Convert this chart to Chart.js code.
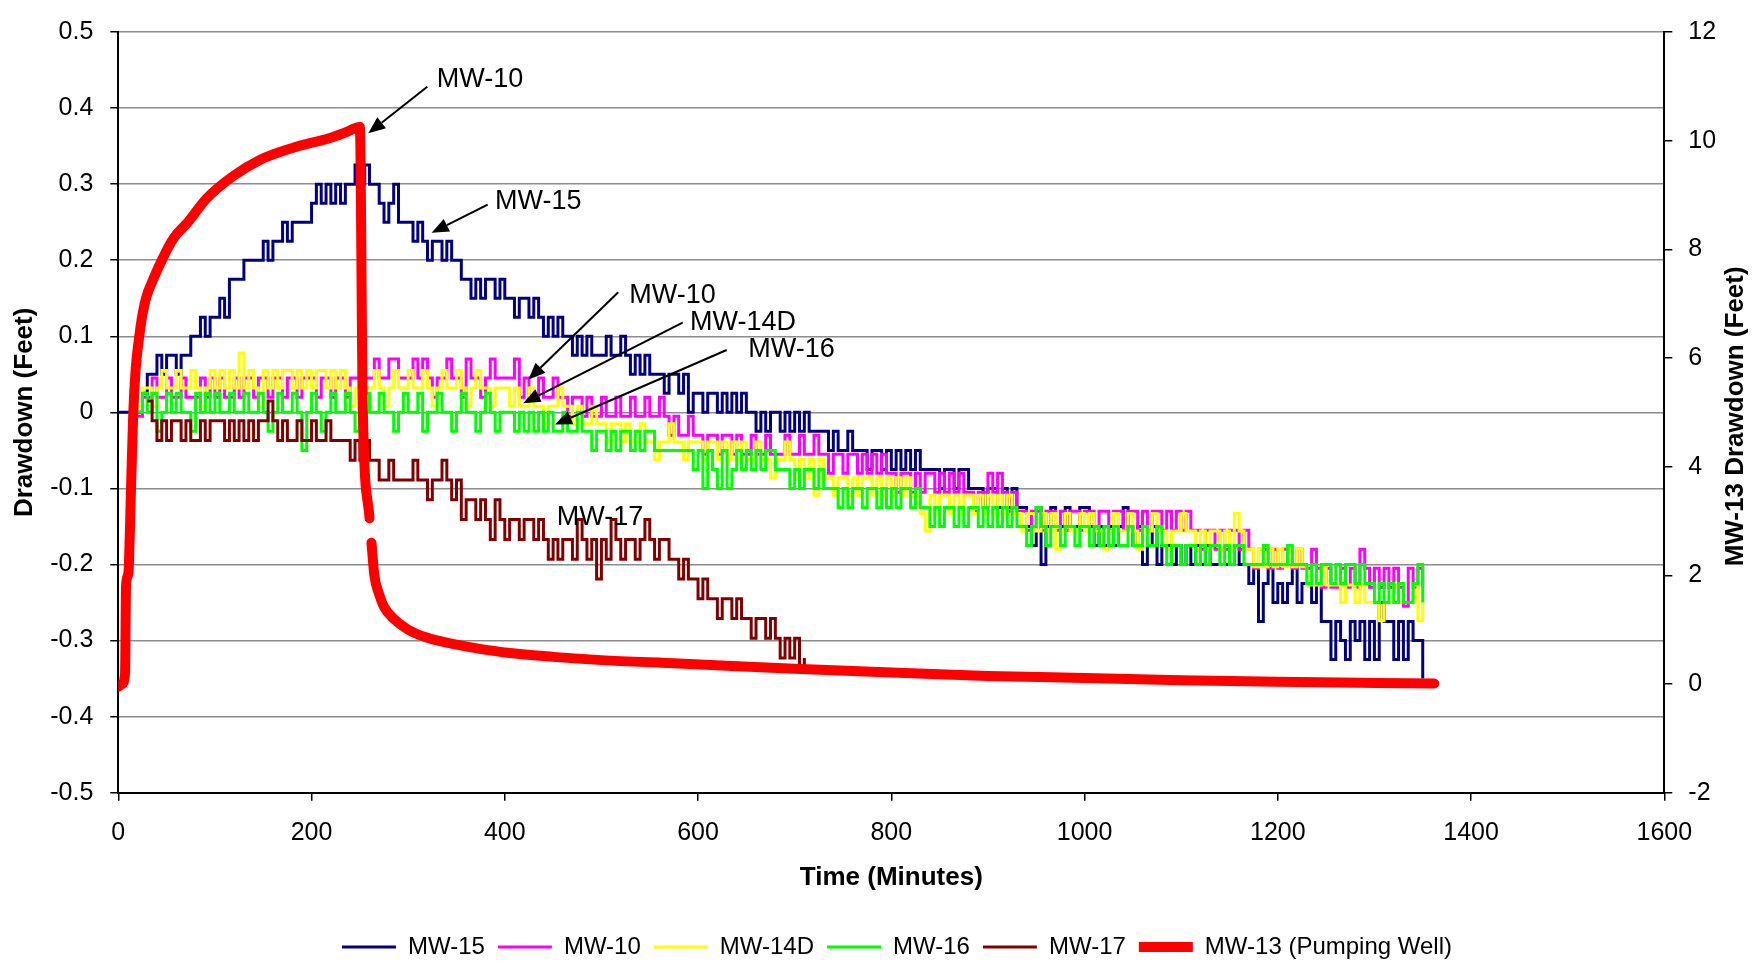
<!DOCTYPE html>
<html>
<head>
<meta charset="utf-8">
<title>Pumping Test Drawdown</title>
<script src="https://cdn.jsdelivr.net/npm/chart.js"></script>
<style>
  html, body { margin: 0; padding: 0; background: #fff; }
  canvas { display: block; }
</style>
</head>
<body>
<canvas id="chart" width="1754" height="963"></canvas>
<script>
// elapsed time since pump start (minutes), observation wells logged every 5 min
const minutes = [
  0, 5, 10, 15, 20, 25, 30, 35, 40, 45, 50, 55, 60, 65, 70, 75, 80, 85, 90, 95,
  100, 105, 110, 115, 120, 125, 130, 135, 140, 145, 150, 155, 160, 165, 170, 175, 180, 185, 190, 195,
  200, 205, 210, 215, 220, 225, 230, 235, 240, 245, 250, 255, 260, 265, 270, 275, 280, 285, 290, 295,
  300, 305, 310, 315, 320, 325, 330, 335, 340, 345, 350, 355, 360, 365, 370, 375, 380, 385, 390, 395,
  400, 405, 410, 415, 420, 425, 430, 435, 440, 445, 450, 455, 460, 465, 470, 475, 480, 485, 490, 495,
  500, 505, 510, 515, 520, 525, 530, 535, 540, 545, 550, 555, 560, 565, 570, 575, 580, 585, 590, 595,
  600, 605, 610, 615, 620, 625, 630, 635, 640, 645, 650, 655, 660, 665, 670, 675, 680, 685, 690, 695,
  700, 705, 710, 715, 720, 725, 730, 735, 740, 745, 750, 755, 760, 765, 770, 775, 780, 785, 790, 795,
  800, 805, 810, 815, 820, 825, 830, 835, 840, 845, 850, 855, 860, 865, 870, 875, 880, 885, 890, 895,
  900, 905, 910, 915, 920, 925, 930, 935, 940, 945, 950, 955, 960, 965, 970, 975, 980, 985, 990, 995,
  1000, 1005, 1010, 1015, 1020, 1025, 1030, 1035, 1040, 1045, 1050, 1055, 1060, 1065, 1070, 1075, 1080, 1085, 1090, 1095,
  1100, 1105, 1110, 1115, 1120, 1125, 1130, 1135, 1140, 1145, 1150, 1155, 1160, 1165, 1170, 1175, 1180, 1185, 1190, 1195,
  1200, 1205, 1210, 1215, 1220, 1225, 1230, 1235, 1240, 1245, 1250, 1255, 1260, 1265, 1270, 1275, 1280, 1285, 1290, 1295,
  1300, 1305, 1310, 1315, 1320, 1325, 1330, 1335, 1340, 1345, 1350
];

// drawdown in feet (left axis)
const mw15 = [
  0, 0, 0, 0, 0, 0.025, 0.05, 0.05, 0.075, 0.05, 0.075, 0.075, 0.05, 0.075, 0.075, 0.1, 0.1, 0.125, 0.1, 0.125,
  0.125, 0.15, 0.125, 0.175, 0.175, 0.175, 0.2, 0.2, 0.2, 0.2, 0.225, 0.2, 0.225, 0.225, 0.25, 0.225, 0.25, 0.25, 0.25, 0.25,
  0.275, 0.3, 0.275, 0.3, 0.275, 0.3, 0.275, 0.3, 0.3, 0.325, 0.3, 0.325, 0.3, 0.3, 0.275, 0.25, 0.275, 0.3, 0.25, 0.25,
  0.25, 0.225, 0.25, 0.225, 0.2, 0.225, 0.225, 0.2, 0.225, 0.2, 0.2, 0.175, 0.175, 0.15, 0.175, 0.15, 0.175, 0.175, 0.15, 0.175,
  0.15, 0.15, 0.125, 0.15, 0.15, 0.125, 0.15, 0.125, 0.1, 0.125, 0.1, 0.125, 0.1, 0.1, 0.075, 0.1, 0.075, 0.1, 0.075, 0.075,
  0.075, 0.1, 0.075, 0.075, 0.1, 0.075, 0.05, 0.075, 0.05, 0.075, 0.05, 0.05, 0.05, 0.025, 0.05, 0.05, 0.025, 0.05, 0, 0.025,
  0.025, 0, 0.025, 0.025, 0, 0.025, 0, 0.025, 0, 0.025, 0, 0, -0.025, 0, -0.025, 0, 0, -0.025, 0, -0.025,
  0, -0.025, 0, -0.025, -0.025, -0.025, -0.025, -0.05, -0.025, -0.05, -0.05, -0.025, -0.05, -0.05, -0.05, -0.075, -0.05, -0.05, -0.075, -0.05,
  -0.075, -0.05, -0.075, -0.05, -0.075, -0.05, -0.075, -0.075, -0.075, -0.075, -0.1, -0.075, -0.075, -0.1, -0.075, -0.075, -0.1, -0.1, -0.1, -0.125,
  -0.1, -0.1, -0.125, -0.1, -0.125, -0.1, -0.125, -0.125, -0.15, -0.175, -0.125, -0.2, -0.15, -0.125, -0.15, -0.15, -0.125, -0.15, -0.15, -0.125,
  -0.125, -0.15, -0.175, -0.15, -0.175, -0.15, -0.175, -0.15, -0.125, -0.15, -0.175, -0.15, -0.2, -0.175, -0.15, -0.2, -0.175, -0.175, -0.2, -0.175,
  -0.2, -0.175, -0.2, -0.175, -0.2, -0.175, -0.2, -0.2, -0.2, -0.2, -0.2, -0.175, -0.2, -0.2, -0.225, -0.2, -0.275, -0.225, -0.2, -0.25,
  -0.225, -0.25, -0.225, -0.2, -0.25, -0.225, -0.225, -0.25, -0.225, -0.275, -0.275, -0.325, -0.275, -0.3, -0.325, -0.275, -0.3, -0.275, -0.325, -0.275,
  -0.325, -0.25, -0.275, -0.275, -0.325, -0.275, -0.325, -0.275, -0.3, -0.3, -0.35
];

const mw10 = [
  null, null, null, null, -0.005, 0.02, 0.02, 0.045, 0.02, 0.02, 0.045, 0.02, 0.02, 0.045, 0.02, 0.02, 0.02, 0.045, 0.02, 0.045,
  0.02, 0.045, 0.02, 0.02, 0.045, 0.02, 0.045, 0.045, 0.02, 0.045, 0.045, 0.02, 0.045, 0.045, 0.02, 0.045, 0.045, 0.02, 0.045, 0.045,
  0.045, 0.02, 0.045, 0.045, 0.02, 0.045, 0.045, 0.02, 0.045, 0.045, 0.02, 0.045, 0.045, 0.07, 0.045, 0.045, 0.07, 0.07, 0.045, 0.045,
  0.045, 0.07, 0.045, 0.07, 0.045, 0.02, 0.045, 0.045, 0.07, 0.045, 0.045, 0.02, 0.07, 0.045, 0.045, 0.02, 0.045, 0.07, 0.045, 0.045,
  0.045, 0.045, 0.07, 0.02, 0.045, 0.02, 0.02, 0.045, 0.02, 0.02, 0.045, 0.02, 0.02, -0.005, 0.02, 0.02, -0.005, 0.02, -0.005, -0.005,
  0.02, -0.005, -0.005, 0.02, -0.005, -0.005, 0.02, -0.005, -0.005, 0.02, -0.005, -0.005, 0.02, -0.005, -0.03, -0.005, -0.03, -0.03, -0.005, -0.03,
  -0.03, -0.055, -0.03, -0.03, -0.055, -0.03, -0.03, -0.055, -0.03, -0.055, -0.055, -0.03, -0.055, -0.055, -0.03, -0.055, -0.055, -0.055, -0.03, -0.055,
  -0.055, -0.03, -0.055, -0.055, -0.03, -0.055, -0.055, -0.08, -0.055, -0.055, -0.08, -0.055, -0.055, -0.08, -0.055, -0.08, -0.055, -0.08, -0.055, -0.08,
  -0.08, -0.105, -0.08, -0.08, -0.105, -0.08, -0.105, -0.08, -0.08, -0.105, -0.08, -0.105, -0.08, -0.105, -0.08, -0.105, -0.105, -0.13, -0.105, -0.105,
  -0.08, -0.105, -0.08, -0.105, -0.13, -0.105, -0.13, -0.13, -0.155, -0.13, -0.13, -0.155, -0.13, -0.13, -0.155, -0.13, -0.155, -0.13, -0.13, -0.155,
  -0.13, -0.13, -0.155, -0.13, -0.13, -0.155, -0.13, -0.13, -0.155, -0.13, -0.13, -0.155, -0.13, -0.155, -0.13, -0.13, -0.155, -0.13, -0.155, -0.13,
  -0.155, -0.13, -0.155, -0.155, -0.18, -0.155, -0.155, -0.18, -0.155, -0.18, -0.155, -0.155, -0.18, -0.155, -0.18, -0.205, -0.18, -0.18, -0.205, -0.18,
  -0.205, -0.18, -0.18, -0.205, -0.18, -0.205, -0.205, -0.18, -0.205, -0.23, -0.205, -0.23, -0.23, -0.205, -0.23, -0.205, -0.23, -0.18, -0.205, -0.23,
  -0.205, -0.23, -0.205, -0.23, -0.205, -0.23, -0.255, -0.205, -0.23, -0.205, -0.23
];

const mw14d = [
  null, null, null, null, 0.008, 0.032, 0.032, 0.008, 0.032, 0.055, 0.032, 0.032, 0.055, 0.032, 0.032, 0.055, 0.032, 0.008, 0.032, 0.055,
  0.032, 0.055, 0.032, 0.055, 0.032, 0.078, 0.032, 0.055, 0.032, 0.008, 0.055, 0.032, 0.055, 0.032, 0.055, 0.055, 0.032, 0.055, 0.032, 0.055,
  0.032, 0.055, 0.055, 0.032, 0.055, 0.032, 0.055, 0.032, 0.008, 0.032, 0.055, 0.032, 0.032, 0.055, 0.032, 0.008, 0.032, 0.055, 0.032, 0.032,
  0.055, 0.032, 0.032, 0.055, 0.032, 0.008, 0.032, 0.055, 0.032, 0.032, 0.055, 0.032, 0.008, 0.032, 0.055, 0.032, 0.032, 0.008, 0.032, 0.032,
  0.032, 0.008, 0.032, 0.008, 0.008, 0.032, 0.008, 0.008, -0.015, 0.008, 0.008, 0.032, 0.008, 0.008, -0.015, 0.008, -0.015, -0.015, 0.008, -0.015,
  -0.015, -0.039, -0.015, -0.015, -0.039, -0.015, -0.039, -0.039, -0.015, -0.039, -0.039, -0.062, -0.039, -0.039, -0.015, -0.039, -0.039, -0.062, -0.039, -0.039,
  -0.039, -0.062, -0.039, -0.039, -0.062, -0.039, -0.062, -0.039, -0.062, -0.039, -0.062, -0.062, -0.039, -0.062, -0.062, -0.086, -0.062, -0.062, -0.039, -0.062,
  -0.086, -0.062, -0.086, -0.062, -0.109, -0.062, -0.086, -0.086, -0.109, -0.086, -0.086, -0.109, -0.086, -0.109, -0.086, -0.086, -0.109, -0.086, -0.109, -0.086,
  -0.109, -0.086, -0.109, -0.086, -0.109, -0.109, -0.133, -0.156, -0.109, -0.133, -0.109, -0.109, -0.133, -0.109, -0.133, -0.109, -0.109, -0.133, -0.109, -0.133,
  -0.109, -0.133, -0.109, -0.133, -0.109, -0.133, -0.133, -0.156, -0.133, -0.133, -0.156, -0.133, -0.156, -0.133, -0.18, -0.156, -0.133, -0.156, -0.156, -0.133,
  -0.156, -0.133, -0.156, -0.156, -0.18, -0.156, -0.133, -0.156, -0.156, -0.133, -0.156, -0.18, -0.156, -0.156, -0.133, -0.156, -0.156, -0.18, -0.156, -0.156,
  -0.133, -0.156, -0.156, -0.18, -0.156, -0.18, -0.156, -0.156, -0.18, -0.156, -0.18, -0.133, -0.156, -0.18, -0.18, -0.203, -0.18, -0.203, -0.18, -0.203,
  -0.18, -0.203, -0.18, -0.203, -0.18, -0.203, -0.227, -0.227, -0.227, -0.203, -0.227, -0.227, -0.227, -0.25, -0.227, -0.227, -0.25, -0.227, -0.25, -0.25,
  -0.25, -0.274, -0.25, -0.25, -0.227, -0.25, -0.25, -0.25, -0.227, -0.274, -0.25
];

const mw16 = [
  null, null, null, null, 0, 0.025, 0, 0.025, -0.025, 0, 0.025, 0, 0.025, 0, 0, -0.025, 0.025, 0, 0.025, 0,
  0.025, 0, 0, 0.025, 0, 0, 0.025, 0, 0, 0.025, 0, -0.025, 0, 0.025, 0, 0, 0.025, 0, -0.05, 0,
  0.025, 0, -0.025, 0, 0.025, 0, 0, 0.025, 0, -0.025, 0, 0.025, 0, 0, 0.025, 0, 0, -0.025, 0, 0.025,
  0, 0, 0.025, -0.025, 0, 0, 0.025, 0, 0, -0.025, 0, 0.025, 0, 0, -0.025, 0, 0.025, 0, -0.025, 0,
  0, 0, -0.025, 0, -0.025, 0, -0.025, 0, -0.025, 0, -0.025, -0.025, 0, -0.025, -0.025, 0, -0.025, -0.025, -0.05, -0.025,
  -0.025, -0.05, -0.025, -0.05, -0.025, -0.025, -0.05, -0.025, -0.05, -0.025, -0.025, -0.05, -0.05, -0.05, -0.05, -0.05, -0.05, -0.05, -0.05, -0.075,
  -0.05, -0.1, -0.05, -0.075, -0.1, -0.05, -0.1, -0.075, -0.05, -0.075, -0.05, -0.075, -0.05, -0.075, -0.05, -0.05, -0.075, -0.075, -0.075, -0.1,
  -0.075, -0.1, -0.075, -0.075, -0.1, -0.075, -0.1, -0.1, -0.1, -0.125, -0.1, -0.125, -0.1, -0.1, -0.125, -0.1, -0.1, -0.125, -0.1, -0.125,
  -0.1, -0.125, -0.1, -0.1, -0.125, -0.1, -0.125, -0.125, -0.15, -0.125, -0.15, -0.125, -0.125, -0.15, -0.125, -0.15, -0.125, -0.125, -0.15, -0.125,
  -0.15, -0.125, -0.15, -0.125, -0.15, -0.125, -0.15, -0.15, -0.175, -0.15, -0.125, -0.15, -0.175, -0.15, -0.15, -0.175, -0.15, -0.15, -0.175, -0.15,
  -0.15, -0.175, -0.15, -0.175, -0.15, -0.175, -0.15, -0.175, -0.175, -0.15, -0.175, -0.175, -0.15, -0.175, -0.175, -0.15, -0.175, -0.2, -0.175, -0.175,
  -0.2, -0.175, -0.175, -0.2, -0.175, -0.2, -0.175, -0.175, -0.2, -0.175, -0.2, -0.175, -0.175, -0.2, -0.2, -0.2, -0.2, -0.175, -0.2, -0.2,
  -0.2, -0.2, -0.175, -0.2, -0.2, -0.2, -0.225, -0.2, -0.225, -0.2, -0.2, -0.225, -0.2, -0.225, -0.2, -0.2, -0.225, -0.2, -0.225, -0.225,
  -0.25, -0.225, -0.25, -0.225, -0.25, -0.225, -0.25, -0.25, -0.225, -0.2, -0.25
];

// MW-17 logger stopped at about 710 min
const mw17 = [
  null, null, null, null, null, null, 0.015, -0.011, -0.037, -0.011, -0.037, -0.011, -0.011, -0.037, -0.011, -0.037, -0.037, -0.011, -0.037, -0.011,
  -0.011, -0.011, -0.037, -0.011, -0.037, -0.011, -0.037, -0.011, -0.037, -0.011, -0.011, 0.015, -0.011, -0.037, -0.011, -0.037, -0.037, -0.011, -0.037, -0.037,
  -0.011, -0.037, -0.037, -0.011, -0.037, -0.037, -0.037, -0.037, -0.063, -0.037, -0.063, -0.037, -0.063, -0.063, -0.089, -0.089, -0.063, -0.089, -0.089, -0.089,
  -0.089, -0.063, -0.089, -0.089, -0.115, -0.089, -0.089, -0.063, -0.089, -0.115, -0.089, -0.141, -0.115, -0.115, -0.141, -0.115, -0.141, -0.167, -0.115, -0.141,
  -0.167, -0.141, -0.141, -0.167, -0.141, -0.141, -0.167, -0.141, -0.167, -0.193, -0.167, -0.193, -0.167, -0.167, -0.193, -0.141, -0.167, -0.193, -0.167, -0.219,
  -0.167, -0.193, -0.141, -0.167, -0.193, -0.167, -0.167, -0.193, -0.167, -0.141, -0.167, -0.193, -0.167, -0.167, -0.193, -0.193, -0.219, -0.193, -0.219, -0.219,
  -0.245, -0.219, -0.245, -0.245, -0.271, -0.245, -0.245, -0.271, -0.245, -0.271, -0.271, -0.297, -0.271, -0.271, -0.297, -0.271, -0.297, -0.323, -0.297, -0.323,
  -0.297, -0.335, -0.323
];

// pumping well, right axis; null marks the gap in the record after shutdown
const mw13Minutes = [
  0, 4, 7, 8, 10, 11, 13, 15.5, 18, 21.7, 25, 29, 35, 45, 57, 72, 91, 119, 147, 181,
  219, 235, 250, 253, 260, 261, 262, 265, 270, 275, 285, 300, 320, 340, 370, 400, 450, 500, 580, 700,
  800, 900, 1000, 1100, 1200, 1300, 1362
];
const mw13Feet = [
  -0.05, 0, 0.2, 1.8, 2.0, 2.2, 3.5, 5.0, 5.8, 6.4, 6.8, 7.12, 7.4, 7.8, 8.2, 8.5, 8.93, 9.35, 9.65, 9.87,
  10.05, 10.15, 10.25, 5.1, 3.05, null, 2.6, 2.0, 1.65, 1.42, 1.2, 1.0, 0.85, 0.76, 0.66, 0.58, 0.5, 0.44, 0.38, 0.28,
  0.21, 0.15, 0.11, 0.07, 0.04, 0.02, 0.01
];

// callout labels: text anchor, arrow tail and arrow tip in (minutes, feet)
const callouts = [
  { text: 'MW-10', at: [329.5, 0.437], from: [319.8, 0.428], to: [258.7, 0.367] },
  { text: 'MW-15', at: [389.8, 0.277], from: [382.3, 0.273], to: [324.3, 0.236] },
  { text: 'MW-10', at: [528.8, 0.154], from: [517.4, 0.158], to: [424.3, 0.043] },
  { text: 'MW-14D', at: [591.6, 0.118], from: [584.1, 0.118], to: [419.1, 0.012] },
  { text: 'MW-16', at: [652.0, 0.082], from: [629.6, 0.082], to: [451.9, -0.016] },
  { text: 'MW-17', at: [453.7, -0.138] }
];

const FONT = "'Liberation Sans', Arial, Helvetica, sans-serif";
Chart.defaults.font.family = FONT;
Chart.defaults.color = '#000';

function wellLine(label, data, color, order) {
  return {
    label: label,
    data: data,
    borderColor: color,
    backgroundColor: color,
    borderWidth: 3,
    pointRadius: 0,
    stepped: true,
    order: order,
    yAxisID: 'y'
  };
}

// arrows + text labels, and the right axis title (reads bottom to top)
const calloutPlugin = {
  id: 'callouts',
  afterDatasetsDraw(chart) {
    const { ctx, scales: { x, y } } = chart;
    ctx.save();
    ctx.font = '27px ' + FONT;
    ctx.fillStyle = '#000';
    ctx.strokeStyle = '#000';
    ctx.textAlign = 'left';
    ctx.textBaseline = 'middle';
    callouts.forEach(c => {
      ctx.fillText(c.text, x.getPixelForValue(c.at[0]), y.getPixelForValue(c.at[1]));
      if (!c.from) return;
      const x0 = x.getPixelForValue(c.from[0]), y0 = y.getPixelForValue(c.from[1]);
      const x1 = x.getPixelForValue(c.to[0]), y1 = y.getPixelForValue(c.to[1]);
      const ang = Math.atan2(y1 - y0, x1 - x0);
      const head = 17, half = 7;
      const bx = x1 - head * Math.cos(ang), by = y1 - head * Math.sin(ang);
      ctx.lineWidth = 2;
      ctx.beginPath();
      ctx.moveTo(x0, y0);
      ctx.lineTo(bx, by);
      ctx.stroke();
      ctx.beginPath();
      ctx.moveTo(x1, y1);
      ctx.lineTo(bx + half * Math.sin(ang), by - half * Math.cos(ang));
      ctx.lineTo(bx - half * Math.sin(ang), by + half * Math.cos(ang));
      ctx.closePath();
      ctx.fill();
    });
    ctx.restore();
  },
  afterDraw(chart) {
    const { ctx, scales: { y2 } } = chart;
    ctx.save();
    ctx.font = 'bold 26px ' + FONT;
    ctx.fillStyle = '#000';
    ctx.textAlign = 'center';
    ctx.textBaseline = 'middle';
    ctx.translate(y2.left + 72, (y2.top + y2.bottom) / 2 + 4);
    ctx.rotate(-Math.PI / 2);
    ctx.fillText('MW-13 Drawdown (Feet)', 0, 0);
    ctx.restore();
  }
};

const ctx = document.getElementById('chart').getContext('2d');

new Chart(ctx, {
  type: 'line',
  data: {
    labels: minutes,
    datasets: [
      wellLine('MW-15', mw15, '#000080', 6),
      wellLine('MW-10', mw10, '#ff00ff', 5),
      wellLine('MW-14D', mw14d, '#ffff00', 4),
      wellLine('MW-16', mw16, '#00ff00', 3),
      wellLine('MW-17', mw17, '#800000', 2),
      {
        label: 'MW-13 (Pumping Well)',
        data: mw13Minutes.map((t, i) => ({ x: t, y: mw13Feet[i] })),
        borderColor: '#ff0000',
        backgroundColor: '#ff0000',
        borderWidth: 10,
        borderCapStyle: 'round',
        borderJoinStyle: 'round',
        cubicInterpolationMode: 'monotone',
        pointRadius: 0,
        order: 1,
        yAxisID: 'y2'
      }
    ]
  },
  options: {
    responsive: false,
    animation: false,
    devicePixelRatio: 1,
    events: [],
    layout: { padding: { top: 20.7, left: 0, right: -40, bottom: -6 } },
    plugins: {
      tooltip: { enabled: false },
      legend: {
        position: 'bottom',
        labels: {
          usePointStyle: true,
          pointStyle: 'line',
          pointStyleWidth: 54,
          padding: 13,
          font: { size: 24 },
          color: '#000',
          sort: (a, b) => a.datasetIndex - b.datasetIndex
        }
      }
    },
    scales: {
      x: {
        type: 'linear',
        min: 0,
        max: 1600,
        ticks: { stepSize: 200, padding: 17, font: { size: 25 }, callback: v => String(v) },
        grid: { drawOnChartArea: false, tickLength: 8, color: '#000', lineWidth: 1.5 },
        border: { color: '#000', width: 2 },
        title: {
          display: true,
          text: 'Time (Minutes)',
          font: { size: 26, weight: 'bold' },
          padding: { top: 0, bottom: 29 }
        },
        afterFit: s => { s.height = 129.3; }
      },
      y: {
        position: 'left',
        min: -0.5,
        max: 0.5,
        ticks: { stepSize: 0.1, padding: 17, font: { size: 25 }, callback: v => String(Math.round(v * 10) / 10) },
        grid: { color: '#8c8c8c', lineWidth: 1.5, tickColor: '#000', tickLength: 8 },
        border: { color: '#000', width: 2 },
        title: {
          display: true,
          text: 'Drawdown (Feet)',
          font: { size: 26, weight: 'bold' },
          padding: { top: 9, bottom: 0 }
        },
        afterFit: s => { s.width = 118.3; }
      },
      y2: {
        position: 'right',
        min: -2,
        max: 12,
        ticks: { stepSize: 2, padding: 16, font: { size: 25 } },
        grid: { drawOnChartArea: false, tickLength: 8, color: '#000', lineWidth: 1.5 },
        border: { color: '#000', width: 2 },
        afterFit: s => { s.width = 129.7; }
      }
    }
  },
  plugins: [calloutPlugin]
});
</script>
</body>
</html>
